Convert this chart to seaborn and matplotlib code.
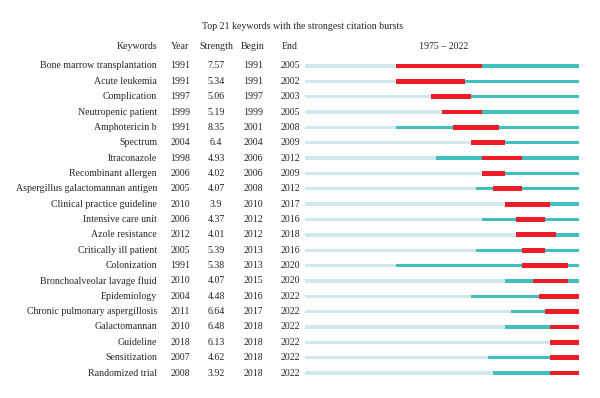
import matplotlib
matplotlib.use("Agg")
import matplotlib.pyplot as plt
import matplotlib.transforms as mtrans
import seaborn as sns
import pandas as pd

keywords = ["Bone marrow transplantation", "Acute leukemia", "Complication", "Neutropenic patient",
            "Amphotericin b", "Spectrum", "Itraconazole", "Recombinant allergen",
            "Aspergillus galactomannan antigen", "Clinical practice guideline", "Intensive care unit",
            "Azole resistance", "Critically ill patient", "Colonization", "Bronchoalveolar lavage fluid",
            "Epidemiology", "Chronic pulmonary aspergillosis", "Galactomannan", "Guideline",
            "Sensitization", "Randomized trial"]
years = [1991, 1991, 1997, 1999, 1991, 2004, 1998, 2006, 2005, 2010, 2006, 2012, 2005, 1991, 2010,
         2004, 2011, 2010, 2018, 2007, 2008]
strengths = ["7.57", "5.34", "5.06", "5.19", "8.35", "6.4", "4.93", "4.02", "4.07", "3.9", "4.37",
             "4.01", "5.39", "5.38", "4.07", "4.48", "6.64", "6.48", "6.13", "4.62", "3.92"]
begins = [1991, 1991, 1997, 1999, 2001, 2004, 2006, 2006, 2008, 2010, 2012, 2012, 2013, 2013, 2015,
          2016, 2017, 2018, 2018, 2018, 2018]
ends = [2005, 2002, 2003, 2005, 2008, 2009, 2012, 2009, 2012, 2017, 2016, 2018, 2016, 2020, 2020,
        2022, 2022, 2022, 2022, 2022, 2022]
start_year, end_year = 1975, 2022

sns.set_theme(style="white")
plt.rcParams['font.family'] = ['Liberation Serif', 'DejaVu Serif']

df = pd.DataFrame({"kw": keywords, "year": years, "begin": begins, "end": ends})
df["full"] = end_year + 1
df["end1"] = df["end"] + 1
df["row"] = range(len(df))

fig = plt.figure(figsize=(6.0, 3.98), dpi=100)
ax = fig.add_axes([305/600, 9/398, 274/600, 339/398])

light = "#cfe9ec"
teal = "#40bfc1"
red = "#ee1c25"

sns.barplot(data=df, x="full", y="kw", orient="h", color=teal, width=0.22, ax=ax,
            saturation=1, linewidth=0)
sns.barplot(data=df, x="year", y="kw", orient="h", color=light, width=0.22, ax=ax,
            saturation=1, linewidth=0)
ax.barh(df["row"], df["end1"] - df["begin"], left=df["begin"], height=0.31, color=red, linewidth=0)

ax.set_xlim(start_year, end_year + 1)
ax.set_ylim(len(df) - 1 + 1.042, -1.042)
ax.axis("off")

tr = mtrans.blended_transform_factory(fig.transFigure, ax.transData)
fs = 7.1
hy = -1.25
ax.text(157/600, hy, "Keywords", transform=tr, ha="right", va="center", fontsize=fs)
ax.text(180/600, hy, "Year", transform=tr, ha="center", va="center", fontsize=fs)
ax.text(216/600, hy, "Strength", transform=tr, ha="center", va="center", fontsize=fs)
ax.text(253/600, hy, "Begin", transform=tr, ha="center", va="center", fontsize=fs)
ax.text(290/600, hy, "End", transform=tr, ha="center", va="center", fontsize=fs)
ax.text(444/600, hy, f"{start_year} – {end_year}", transform=tr, ha="center", va="center", fontsize=fs)
ax.text(303/600, -2.6, "Top 21 keywords with the strongest citation bursts", transform=tr,
        ha="center", va="center", fontsize=fs)

for i in range(len(df)):
    ax.text(157/600, i, keywords[i], transform=tr, ha="right", va="center", fontsize=fs)
    ax.text(180/600, i, str(years[i]), transform=tr, ha="center", va="center", fontsize=fs)
    ax.text(216/600, i, strengths[i], transform=tr, ha="center", va="center", fontsize=fs)
    ax.text(253/600, i, str(begins[i]), transform=tr, ha="center", va="center", fontsize=fs)
    ax.text(290/600, i, str(ends[i]), transform=tr, ha="center", va="center", fontsize=fs)

fig.savefig("out.png", dpi=100, facecolor="white")
